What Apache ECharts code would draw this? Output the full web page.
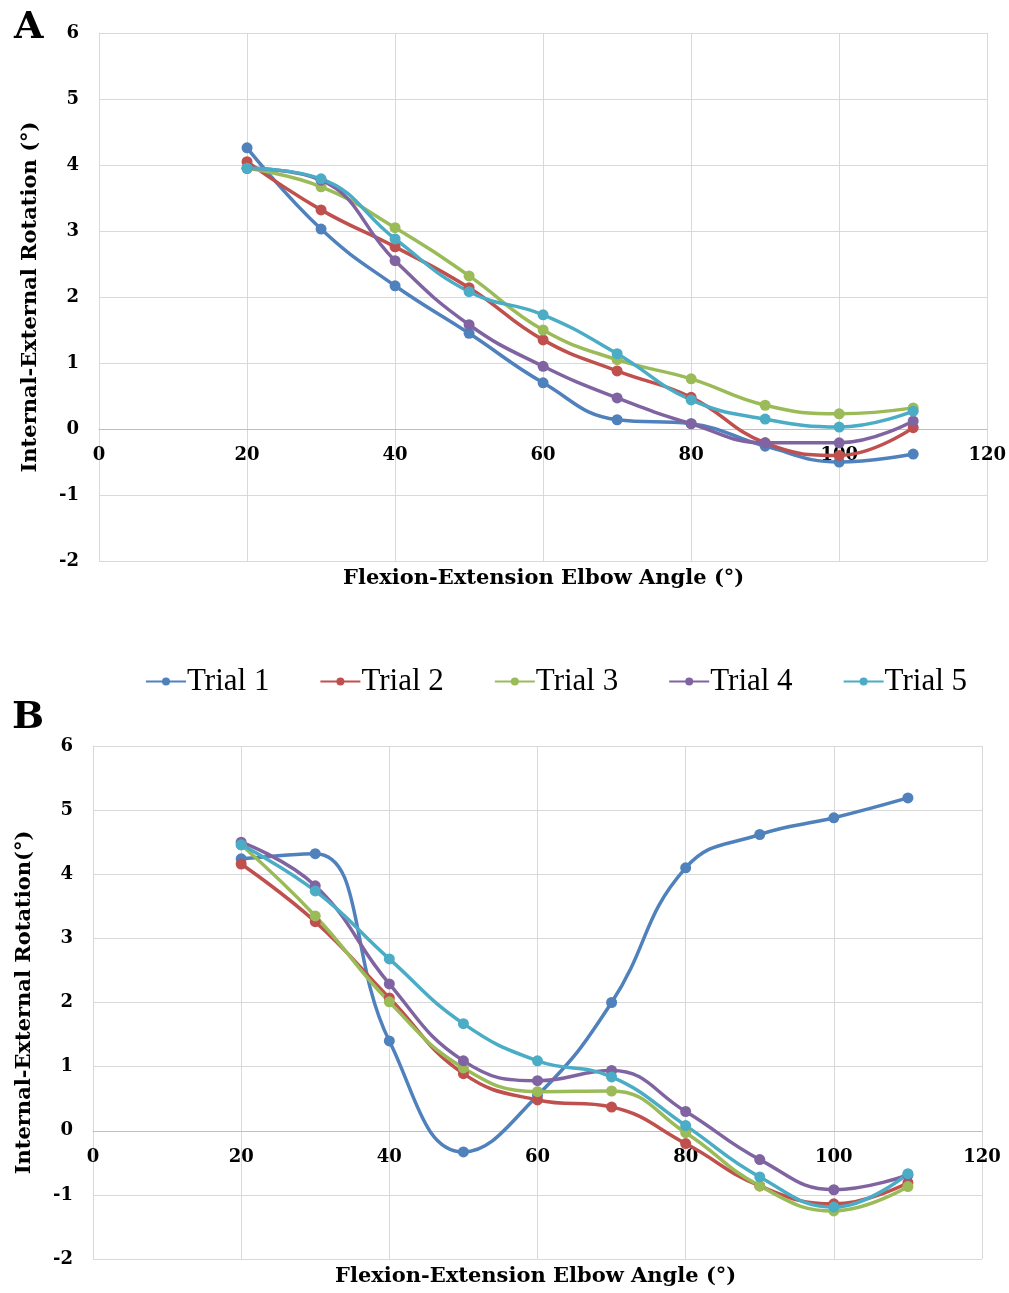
<!DOCTYPE html>
<html>
<head>
<meta charset="utf-8">
<script src="https://cdn.jsdelivr.net/npm/echarts@6/dist/echarts.min.js"></script>
<style>
  html, body { margin: 0; padding: 0; background: #fff; }
  #chart { width: 1009px; height: 1293px; }
</style>
</head>
<body>
<div id="chart"></div>
<script>
// elbow angles (x)
var angles = [20, 30, 40, 50, 60, 70, 80, 90, 100, 110];
var trialNames = ["Trial 1", "Trial 2", "Trial 3", "Trial 4", "Trial 5"];
var colors = ["#4F81BD", "#C0504D", "#9BBB59", "#8064A2", "#4BACC6"];

// panel A
var a1 = [4.26, 3.03, 2.17, 1.45, 0.70, 0.14, 0.08, -0.26, -0.50, -0.38];
var a2 = [4.05, 3.32, 2.76, 2.14, 1.35, 0.88, 0.48, -0.21, -0.40, 0.02];
var a3 = [3.95, 3.67, 3.05, 2.32, 1.50, 1.05, 0.76, 0.36, 0.23, 0.32];
var a4 = [3.95, 3.77, 2.55, 1.58, 0.95, 0.47, 0.08, -0.21, -0.21, 0.12];
var a5 = [3.95, 3.79, 2.88, 2.08, 1.73, 1.14, 0.44, 0.15, 0.03, 0.27];

// panel B
var b1 = [4.24, 4.32, 1.40, -0.33, 0.55, 2.00, 4.10, 4.62, 4.88, 5.19];
var b2 = [4.16, 3.26, 2.07, 0.89, 0.48, 0.37, -0.20, -0.86, -1.14, -0.81];
var b3 = [4.46, 3.35, 2.01, 0.98, 0.61, 0.62, -0.03, -0.86, -1.25, -0.87];
var b4 = [4.50, 3.82, 2.29, 1.09, 0.78, 0.94, 0.30, -0.45, -0.92, -0.69];
var b5 = [4.46, 3.74, 2.68, 1.67, 1.09, 0.84, 0.08, -0.72, -1.19, -0.67];

var panelA = [a1, a2, a3, a4, a5];
var panelB = [b1, b2, b3, b4, b5];

var tickFont = { fontFamily: "DejaVu Serif", fontWeight: "bold", fontSize: 18, color: "#000" };
var nameFont = { fontFamily: "DejaVu Serif", fontWeight: "bold", fontSize: 21, color: "#000" };

function pairs(vals) {
    return angles.map(function (x, i) { return [x, vals[i]]; });
}

// x axis sits on y = 0 (offset up from the bottom of the grid)
function xAxisFor(idx, offset) {
    return {
        type: "value", gridIndex: idx, min: 0, max: 120, interval: 20,
        position: "bottom", offset: offset,
        axisLine: { onZero: false, lineStyle: { color: "#BFBFBF", width: 1 } },
        axisTick: { show: false },
        axisLabel: Object.assign({ margin: 17 }, tickFont),
        splitLine: { show: true, lineStyle: { color: "#D9D9D9" } }
    };
}

function yAxisFor(idx, name, gap) {
    return {
        type: "value", gridIndex: idx, min: -2, max: 6, interval: 1,
        name: name, nameLocation: "middle", nameRotate: 90, nameGap: gap,
        nameTextStyle: nameFont,
        axisLine: { show: true, lineStyle: { color: "#D9D9D9" } },
        axisTick: { show: false },
        axisLabel: Object.assign({ margin: 20 }, tickFont),
        splitLine: { show: true, lineStyle: { color: "#D9D9D9" } }
    };
}

var series = [];
[panelA, panelB].forEach(function (panel, g) {
    panel.forEach(function (vals, i) {
        series.push({
            name: trialNames[i],
            type: "line",
            xAxisIndex: g,
            yAxisIndex: g,
            smooth: 0.45,
            symbol: "circle",
            symbolSize: 11,
            lineStyle: { width: 3.5, color: colors[i] },
            itemStyle: { color: colors[i] },
            data: pairs(vals)
        });
    });
});

var chart = echarts.init(document.getElementById("chart"));
chart.setOption({
    animation: false,
    backgroundColor: "#fff",
    title: [
        { text: "A", left: 9, top: 4, textStyle: { fontFamily: "DejaVu Serif", fontWeight: "bold", fontSize: 38, color: "#000" } },
        { text: "B", left: 7, top: 694, textStyle: { fontFamily: "DejaVu Serif", fontWeight: "bold", fontSize: 38, color: "#000" } }
    ],
    legend: {
        data: trialNames,
        top: 661,
        left: 140,
        itemWidth: 40,
        itemHeight: 10,
        itemGap: 50,
        textStyle: { fontFamily: "Liberation Serif", fontSize: 31, color: "#000", padding: [0, 0, 0, -4] }
    },
    grid: [
        { left: 99, right: 21, top: 33, height: 528 },
        { left: 93, right: 27, top: 746, height: 513 }
    ],
    xAxis: [xAxisFor(0, -132), xAxisFor(1, -128)],
    yAxis: [
        yAxisFor(0, "Internal-External Rotation (°)", 58),
        yAxisFor(1, "Internal-External Rotation(°)", 58)
    ],
    graphic: [
        { type: "text", left: 343, top: 568, style: { text: "Flexion-Extension Elbow Angle (°)", font: "bold 21px 'DejaVu Serif'", fill: "#000" } },
        { type: "text", left: 335, top: 1266, style: { text: "Flexion-Extension Elbow Angle (°)", font: "bold 21px 'DejaVu Serif'", fill: "#000" } }
    ],
    series: series
});
</script>
</body>
</html>
